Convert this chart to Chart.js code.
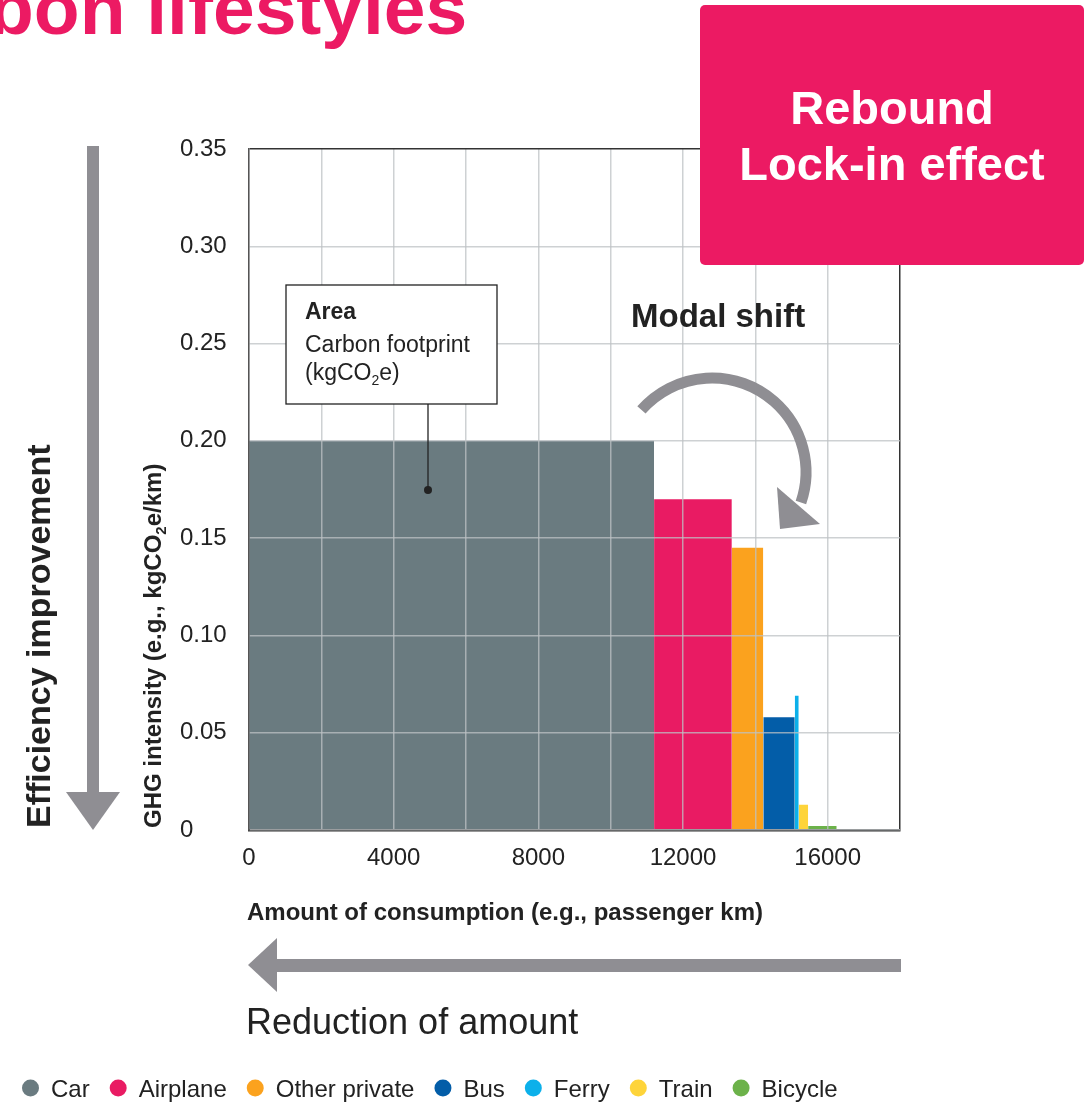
<!DOCTYPE html>
<html>
<head>
<meta charset="utf-8">
<title>Low-carbon lifestyles</title>
<script src="https://cdn.jsdelivr.net/npm/chart.js@4.4.1/dist/chart.umd.min.js"></script>
<style>
  html, body { margin: 0; padding: 0; background: #fff; }
  canvas { display: block; }
</style>
</head>
<body>
<canvas id="myChart" width="1091" height="1102"></canvas>
<script>
var modes = ["Car", "Airplane", "Other private", "Bus", "Ferry", "Train", "Bicycle"];
// passenger km travelled per mode (bar widths)
var amounts = [11200, 2150, 870, 870, 110, 260, 790];
// kgCO2e per passenger km (bar heights)
var intensity = [0.20, 0.17, 0.145, 0.058, 0.069, 0.013, 0.002];
var modeColors = ["#6a7b80", "#e91b63", "#fba21e", "#035da8", "#0cb0ea", "#fed43a", "#6cb24a"];
var xTickLabels = [0, 4000, 8000, 12000, 16000];

var FONT = "'Liberation Sans', Arial, sans-serif";
var PINK = "#ec1a63";
var ARROW = "#8f8e93";
var INK = "#222";
var gridColor = "rgba(190,194,196,0.75)";

// each mode is a rectangle: a flat line from start to end, filled down to zero
var datasets = [];
var start = 0;
for (var i = 0; i < modes.length; i++) {
  var end = start + amounts[i];
  datasets.push({
    label: modes[i],
    data: [{x: start, y: intensity[i]}, {x: end, y: intensity[i]}],
    backgroundColor: modeColors[i],
    borderColor: "rgba(0,0,0,0)",
    borderWidth: 0,
    pointRadius: 0,
    pointHoverRadius: 0,
    fill: "origin",
    tension: 0
  });
  start = end;
}

function textWithSub(ctx, parts, x, y, size, weight) {
  // parts: [text, sub, text] -> subscript drawn smaller and lower
  var cx = x;
  for (var k = 0; k < parts.length; k++) {
    var isSub = k % 2 === 1;
    ctx.font = weight + " " + (isSub ? Math.round(size * 0.62) : size) + "px " + FONT;
    ctx.fillText(parts[k], cx, isSub ? y + size * 0.2 : y);
    cx += ctx.measureText(parts[k]).width;
  }
}

var decorations = {
  id: "decorations",
  afterDraw: function(chart) {
    var ctx = chart.ctx;
    ctx.save();
    ctx.textAlign = "left";
    ctx.textBaseline = "alphabetic";

    // slide title
    ctx.fillStyle = PINK;
    ctx.font = "bold 75px " + FONT;
    ctx.fillText("bon lifestyles", -12, 34);

    // rebound box
    ctx.fillStyle = PINK;
    ctx.beginPath();
    ctx.roundRect(700, 5, 384, 260, 5);
    ctx.fill();
    ctx.fillStyle = "#fff";
    ctx.textAlign = "center";
    ctx.font = "bold 47px " + FONT;
    ctx.fillText("Rebound", 892, 124);
    ctx.fillText("Lock-in effect", 892, 180);
    ctx.textAlign = "left";

    // area callout
    ctx.fillStyle = "#fff";
    ctx.fillRect(286, 285, 211, 119);
    ctx.strokeStyle = "#222";
    ctx.lineWidth = 1.3;
    ctx.strokeRect(286, 285, 211, 119);
    ctx.beginPath();
    ctx.moveTo(428, 404);
    ctx.lineTo(428, 490);
    ctx.stroke();
    ctx.fillStyle = "#222";
    ctx.beginPath();
    ctx.arc(428, 490, 4, 0, Math.PI * 2);
    ctx.fill();
    ctx.font = "bold 23px " + FONT;
    ctx.fillText("Area", 305, 319);
    ctx.font = "23px " + FONT;
    ctx.fillText("Carbon footprint", 305, 352);
    textWithSub(ctx, ["(kgCO", "2", "e)"], 305, 380, 23, "normal");

    // modal shift
    ctx.fillStyle = INK;
    ctx.font = "bold 33px " + FONT;
    ctx.fillText("Modal shift", 631, 327);
    ctx.strokeStyle = ARROW;
    ctx.lineWidth = 11;
    ctx.lineCap = "butt";
    ctx.beginPath();
    ctx.arc(712, 472, 94, -2.42, 0.33);
    ctx.stroke();
    ctx.fillStyle = ARROW;
    ctx.beginPath();
    ctx.moveTo(777, 487);
    ctx.lineTo(820, 524);
    ctx.lineTo(780, 529);
    ctx.closePath();
    ctx.fill();

    // efficiency arrow (vertical)
    ctx.fillRect(87, 146, 12, 648);
    ctx.beginPath();
    ctx.moveTo(66, 792);
    ctx.lineTo(120, 792);
    ctx.lineTo(93, 830);
    ctx.closePath();
    ctx.fill();

    // amount arrow (horizontal)
    ctx.fillRect(276, 959, 625, 13);
    ctx.beginPath();
    ctx.moveTo(277, 938);
    ctx.lineTo(277, 992);
    ctx.lineTo(248, 965);
    ctx.closePath();
    ctx.fill();

    // rotated labels
    ctx.fillStyle = INK;
    ctx.save();
    ctx.translate(50, 828);
    ctx.rotate(-Math.PI / 2);
    ctx.font = "bold 34px " + FONT;
    ctx.fillText("Efficiency improvement", 0, 0);
    ctx.restore();

    ctx.save();
    ctx.translate(161, 828);
    ctx.rotate(-Math.PI / 2);
    textWithSub(ctx, ["GHG intensity (e.g., kgCO", "2", "e/km)"], 0, 0, 24, "bold");
    ctx.restore();

    ctx.font = "bold 24px " + FONT;
    ctx.fillText("Amount of consumption (e.g., passenger km)", 247, 920);
    ctx.font = "36px " + FONT;
    ctx.fillText("Reduction of amount", 246, 1034);

    // legend
    ctx.font = "24px " + FONT;
    var lx = 22;
    for (var m = 0; m < modes.length; m++) {
      ctx.fillStyle = modeColors[m];
      ctx.beginPath();
      ctx.arc(lx + 8.5, 1088, 8.5, 0, Math.PI * 2);
      ctx.fill();
      ctx.fillStyle = INK;
      ctx.fillText(modes[m], lx + 29, 1097);
      lx += 29 + ctx.measureText(modes[m]).width + 20;
    }
    ctx.restore();
  }
};

var chart = new Chart(document.getElementById("myChart"), {
  type: "line",
  data: { datasets: datasets },
  options: {
    responsive: false,
    animation: false,
    events: [],
    layout: { padding: { left: 180, right: 191, top: 149, bottom: 232 } },
    plugins: {
      legend: { display: false },
      tooltip: { enabled: false },
      title: { display: false }
    },
    scales: {
      x: {
        type: "linear",
        min: 0,
        max: 18000,
        afterFit: function(scale) { scale.height = 40; },
        ticks: {
          stepSize: 2000,
          autoSkip: false,
          maxRotation: 0,
          padding: 14,
          color: INK,
          font: { family: FONT, size: 24 },
          callback: function(v) { return xTickLabels.indexOf(v) >= 0 ? String(v) : ""; }
        },
        grid: {
          z: 1,
          drawTicks: false,
          lineWidth: 1.5,
          color: function(c) { return c.tick && c.tick.value === 18000 ? "#333" : gridColor; }
        },
        border: { z: 1, display: true, color: "#333", width: 2.5 }
      },
      y: {
        min: 0,
        max: 0.35,
        afterFit: function(scale) { scale.width = 69; },
        ticks: {
          stepSize: 0.05,
          crossAlign: "far",
          color: INK,
          font: { family: FONT, size: 24 },
          callback: function(v) { return v === 0 ? "0" : v.toFixed(2); }
        },
        grid: {
          z: 1,
          drawTicks: false,
          lineWidth: 1.5,
          color: function(c) { return c.index === c.scale.ticks.length - 1 ? "#333" : gridColor; }
        },
        border: { z: 1, display: true, color: "#555", width: 1.5 }
      }
    }
  },
  plugins: [decorations]
});
</script>
</body>
</html>
